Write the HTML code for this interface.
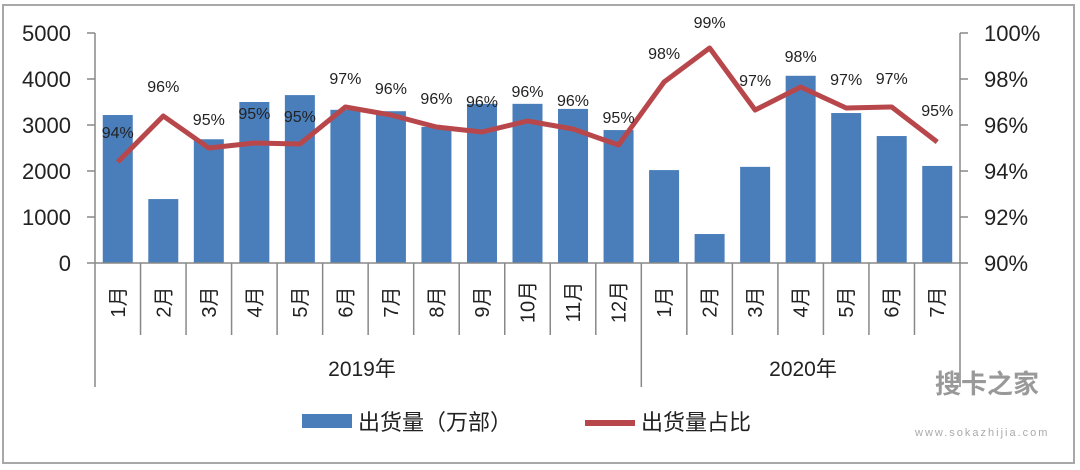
<!DOCTYPE html>
<html><head><meta charset="utf-8"><style>
body{margin:0;background:#fff;}
svg{display:block;font-family:"Liberation Sans","Noto Sans CJK SC",sans-serif;}
</style></head><body>
<svg width="1080" height="470" xmlns="http://www.w3.org/2000/svg">
<rect x="3" y="5" width="1071" height="458" fill="#fff" stroke="#a8a8a8" stroke-width="2"/>
<g id="bars" fill="#4a7ebb"></g>
<g id="axes" stroke="#888" stroke-width="1.5" fill="none"></g>
<g id="txt" fill="#222"></g>
</svg>
<script>
const NS="http://www.w3.org/2000/svg";
function el(p,t,a,tx){const e=document.createElementNS(NS,t);for(const k in a)e.setAttribute(k,a[k]);if(tx!==undefined)e.textContent=tx;document.querySelector(p).appendChild(e);return e;}
const x0=95,x1=960,y0=263,yt=33,step=(x1-x0)/19;
const vals=[3217,1390,2690,3500,3650,3330,3300,2960,3460,3460,3350,2890,2020,630,2090,4070,3260,2760,2110];
const ly=[162,116,148,143,144,107,115,127,132,121,129,145,82,48,110,87,108,107,142];
const lab=["94%","96%","95%","95%","95%","97%","96%","96%","96%","96%","96%","95%","98%","99%","97%","98%","97%","97%","95%"];
const labY=[132,86,119,113,116,78,88,98,101,91,100,117,53,22,80,56,79,78,110];
const months=["1月","2月","3月","4月","5月","6月","7月","8月","9月","10月","11月","12月","1月","2月","3月","4月","5月","6月","7月"];
const k=(y0-yt)/5000;
vals.forEach((v,i)=>{const cx=x0+step*(i+0.5);el("#bars","rect",{x:cx-15,y:y0-v*k,width:30,height:v*k});});
el("#axes","line",{x1:x0,y1:yt,x2:x0,y2:387});
el("#axes","line",{x1:x1,y1:yt,x2:x1,y2:387});
el("#axes","line",{x1:x0,y1:y0,x2:x1,y2:y0});
for(let i=0;i<=5;i++){const y=y0-i*(y0-yt)/5;el("#axes","line",{x1:x0-8,y1:y,x2:x0,y2:y});el("#axes","line",{x1:x1,y1:y,x2:x1+8,y2:y});
el("#txt","text",{x:71,y:y+8,"text-anchor":"end","font-size":"22"},String(i*1000));
el("#txt","text",{x:984,y:y+8,"font-size":"22"},(90+2*i)+"%");}
for(let i=1;i<19;i++){const x=x0+step*i;el("#axes","line",{x1:x,y1:y0,x2:x,y2:i==12?387:335});}
el("#axes","polyline",{points:ly.map((y,i)=>(x0+step*(i+0.5))+","+y).join(" "),stroke:"#b8474c","stroke-width":"5","stroke-linejoin":"round"});
lab.forEach((t,i)=>{const cx=x0+step*(i+0.5);el("#txt","text",{x:cx,y:labY[i]+6,"text-anchor":"middle","font-size":"16"},t);});
months.forEach((m,i)=>{const cx=x0+step*(i+0.5);el("#txt","text",{transform:`translate(${cx+7},302) rotate(-90)`,"text-anchor":"middle","font-size":"20"},m);});
el("#txt","text",{x:362,y:376,"text-anchor":"middle","font-size":"21"},"2019年");
el("#txt","text",{x:803,y:376,"text-anchor":"middle","font-size":"21"},"2020年");
el("#bars","rect",{x:302,y:414,width:50,height:14});
el("#txt","text",{x:358,y:430,"font-size":"22"},"出货量（万部）");
el("#axes","line",{x1:585,y1:423,x2:635,y2:423,stroke:"#b8474c","stroke-width":"6"});
el("#txt","text",{x:641,y:430,"font-size":"22"},"出货量占比");
el("#txt","text",{x:935,y:393,"font-size":"26","font-weight":"bold",fill:"#999"},"搜卡之家");
el("#txt","text",{x:915,y:436,"font-size":"11",fill:"#aaa","letter-spacing":"2"},"www.sokazhijia.com");
</script>
</body></html>
